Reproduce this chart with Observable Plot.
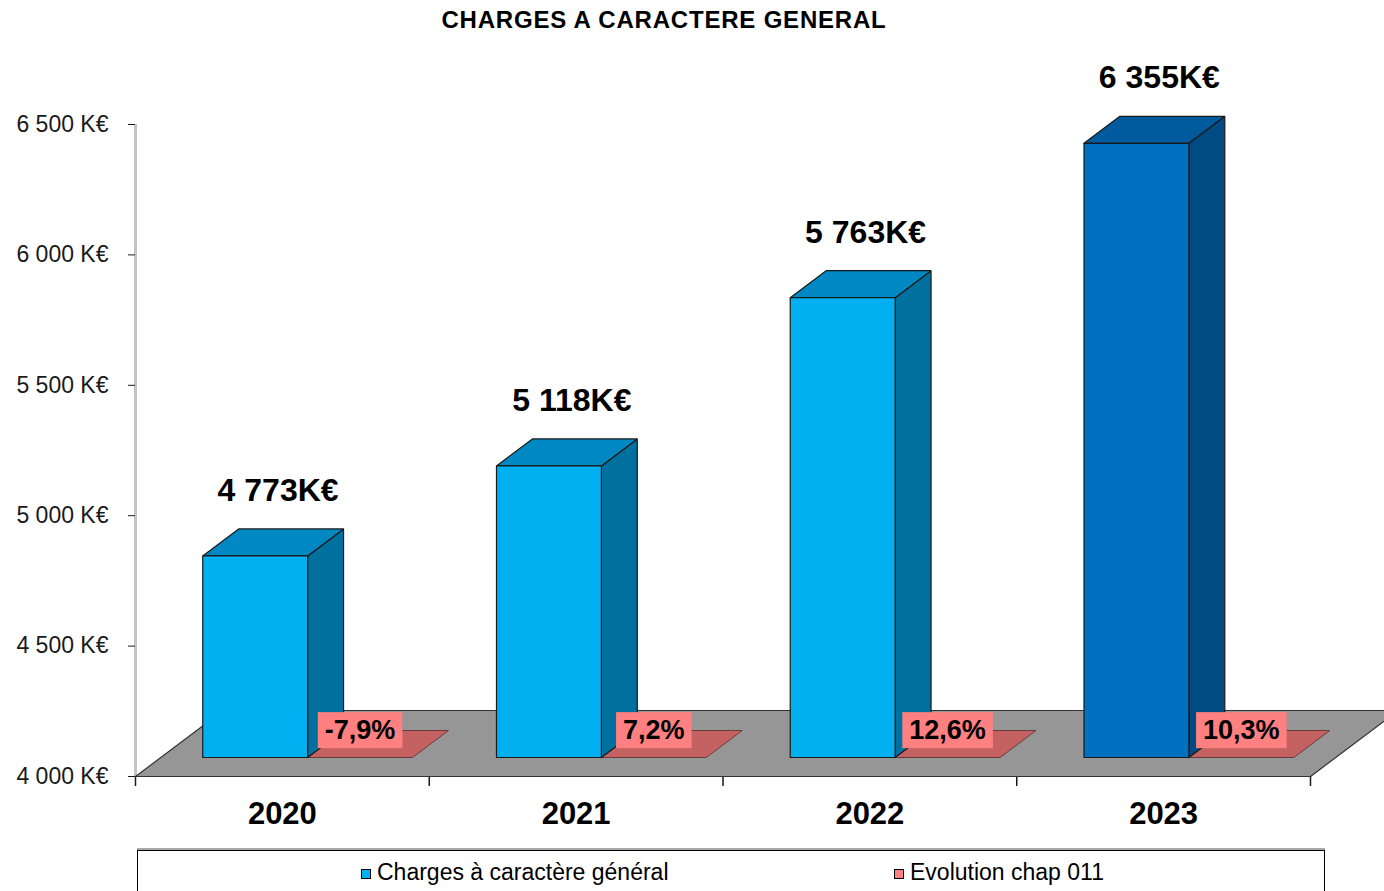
<!DOCTYPE html>
<html><head><meta charset="utf-8">
<script src="https://cdn.jsdelivr.net/npm/d3@7"></script>
<script src="https://cdn.jsdelivr.net/npm/@observablehq/plot@0.6"></script>
<style>
body{margin:0;background:#fff;font-family:"Liberation Sans",Arial,sans-serif;}
#wrap{position:relative;width:1384px;height:891px;overflow:hidden;background:#fff;}
#title{position:absolute;top:6px;left:0;width:1328px;text-align:center;font-weight:bold;font-size:24px;letter-spacing:0.8px;color:#000;}
#chart{position:absolute;top:44px;left:0;}
#legend{position:absolute;left:137px;top:850px;width:1186px;height:60px;border:1.5px solid #000;box-shadow:0 -2px 0 #aaa;background:#fff;}
.item{position:absolute;top:8px;font-size:23px;color:#000;white-space:nowrap;}
.sw{display:inline-block;width:8px;height:8px;border:1px solid #000;margin-right:6px;vertical-align:1px;}
</style></head>
<body>
<div id="wrap">
  <div id="title">CHARGES A CARACTERE GENERAL</div>
  <div id="chart"></div>
  <div id="legend"></div>
</div>
<script>
// ---------- DATA ----------
const years = ["2020", "2021", "2022", "2023"];
const charges = [4773, 5118, 5763, 6355];          // K€
const evolution = [-7.9, 7.2, 12.6, 10.3];         // %
const yTicks = [4000, 4500, 5000, 5500, 6000, 6500];
const seriesNames = ["Charges à caractère général", "Evolution chap 011"];

// ---------- STYLE ----------
const frontColors = ["#00B0F0", "#00B0F0", "#00B0F0", "#0070C0"];
const topColors   = ["#0088C2", "#0088C2", "#0088C2", "#005A9E"];
const sideColors  = ["#00719E", "#00719E", "#00719E", "#004B83"];
const floorColor = "#969696", flatColor = "#C46262", boxColor = "#FF8080";

const fr = d3.formatLocale({decimal: ",", thousands: " ", grouping: [3], currency: ["", "€"], minus: "-"});
const fmtK = fr.format(",.0f");
const fmtPct = fr.format(".1f");
const valueLabels = charges.map(v => fmtK(v) + "K€");
const pctLabels = evolution.map(v => fmtPct(v) + "%");
const yTickLabels = new Map(yTicks.map(v => [v, fmtK(v) + " K€"]));

// ---------- LAYOUT ----------
const W = 1384, H = 804;
const mL = 135, mR = 74, mT = 80, mB = 72;
const x0 = 0, x1 = years.length, yMin = 4000, yMax = 6500;
const kx = (W - mL - mR) / (x1 - x0);     // px per category
const ky = (H - mT - mB) / (yMax - yMin); // px per K€
// oblique depth projection (depth measured in px upward)
const SL = 1.33, D0 = 19, D1 = 46, DF = 66;
const BW = 1 / 2.8, GAP = 0.4 * BW;
const px = (x, d) => x + d * SL / kx;
const py = (v, d) => v + d / ky;
function quad(id, fill, pts) {
  return [...pts, pts[0]].map(([x, v, d]) => ({id, fill, x: px(x, d), y: py(v, d)}));
}

const floor = quad("floor", floorColor, [[x0, yMin, 0], [x1, yMin, 0], [x1, yMin, DF], [x0, yMin, DF]]);
const flats = [], fronts = [], tops = [], sides = [];
years.forEach((yr, i) => {
  const a = i + GAP, b = a + BW, c = b + BW, v = charges[i];
  flats.push(...quad("f" + i, flatColor, [[b, yMin, D0], [c, yMin, D0], [c, yMin, D1], [b, yMin, D1]]));
  sides.push(...quad("s" + i, sideColors[i], [[b, yMin, D0], [b, v, D0], [b, v, D1], [b, yMin, D1]]));
  tops.push(...quad("t" + i, topColors[i], [[a, v, D0], [b, v, D0], [b, v, D1], [a, v, D1]]));
  fronts.push(...quad("r" + i, frontColors[i], [[a, yMin, D0], [b, yMin, D0], [b, v, D0], [a, v, D0]]));
});

const valuePts = years.map((yr, i) => ({label: valueLabels[i], x: px(i + GAP + BW / 2, D1), y: py(charges[i], D1)}));
const pctPts = years.map((yr, i) => ({label: pctLabels[i], x: px(i + GAP + 1.5 * BW, D0), y: py(yMin, D1)}));

const faceOpts = {x: "x", y: "y", z: "id", fill: "fill", stroke: "#1a1a1a", strokeWidth: 1.2, strokeLinejoin: "miter"};

const chart = Plot.plot({
  width: W, height: H,
  marginLeft: mL, marginRight: mR, marginTop: mT, marginBottom: mB,
  x: {domain: [x0, x1], axis: null},
  y: {domain: [yMin, yMax], axis: null},
  color: {type: "identity"},
  style: {fontFamily: "'Liberation Sans', Arial, sans-serif", background: "white", overflow: "hidden"},
  marks: [
    Plot.ruleX([x0], {y1: yMin, y2: yMax, stroke: "#c4c4c4", strokeWidth: 3}),
    Plot.axisY(yTicks, {anchor: "left", label: null, tickSize: 7, tickPadding: 20, fontSize: 23, color: "#1a1a1a",
      tickFormat: d => yTickLabels.get(d)}),
    Plot.axisX(d3.range(x0, x1 + 1), {anchor: "bottom", label: null, tickSize: 10, tickFormat: () => "", color: "#1a1a1a", strokeWidth: 1.5}),
    Plot.line(floor, {...faceOpts, stroke: "#333"}),
    Plot.line(flats, {...faceOpts, stroke: "#6b3a3a", strokeWidth: 1}),
    Plot.line(sides, faceOpts),
    Plot.line(tops, faceOpts),
    Plot.line(fronts, faceOpts),
    Plot.text(years, {x: (d, i) => i + 0.5, y: () => yMin, text: d => d, dy: 38, fontSize: 31, fontWeight: "bold", fill: "#000"}),
    Plot.text(valuePts, {x: "x", y: "y", text: "label", dx: -13, dy: -28, lineAnchor: "bottom", fontSize: 32, fontWeight: "bold", fill: "#000"}),
    Plot.text(pctPts, {x: "x", y: "y", text: "label", lineAnchor: "middle", fontSize: 27, fontWeight: "bold", fill: "#000"})
  ]
});
document.getElementById("chart").appendChild(chart);

// pink boxes behind the evolution labels
d3.select(chart).selectAll("text").filter(function () { return this.textContent.includes("%"); }).each(function () {
  const b = this.getBBox();
  const t = this;
  d3.select(this.parentNode).insert("rect", () => t)
    .attr("x", b.x - 7).attr("y", b.y - 3).attr("width", b.width + 14).attr("height", b.height + 6)
    .attr("transform", t.getAttribute("transform"))
    .attr("fill", boxColor);
});

// legend
const legend = d3.select("#legend");
const legendItems = [{name: seriesNames[0], color: frontColors[0], left: 223}, {name: seriesNames[1], color: boxColor, left: 756}];
legendItems.forEach(it => {
  const d = legend.append("div").attr("class", "item").style("left", it.left + "px");
  d.append("span").attr("class", "sw").style("background", it.color);
  d.append("span").text(it.name);
});
</script>
</body></html>
